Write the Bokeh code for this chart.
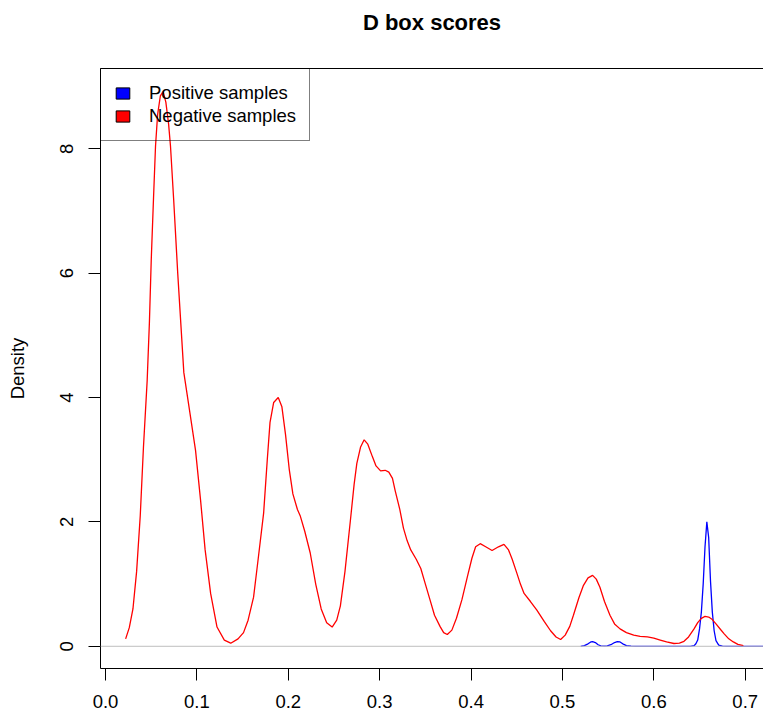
from bokeh.plotting import figure
from bokeh.models import (Range1d, FixedTicker, LinearAxis, Legend, LegendItem, Span)
from bokeh.embed import file_html
from bokeh.resources import INLINE

# ---- data ----
neg_x = [0.022, 0.026, 0.030, 0.034, 0.038, 0.0415, 0.0456, 0.048, 0.050, 0.0525,
         0.0547, 0.057, 0.060, 0.063, 0.066, 0.069, 0.0711, 0.0745, 0.079, 0.0857,
         0.093, 0.0985, 0.104, 0.109, 0.115, 0.122, 0.130, 0.137, 0.145, 0.151,
         0.156, 0.162, 0.167, 0.173, 0.177,
         0.180, 0.184, 0.189, 0.193, 0.197, 0.201, 0.205, 0.210, 0.213, 0.218,
         0.224, 0.230, 0.236, 0.242, 0.248, 0.253, 0.257, 0.262, 0.268, 0.272,
         0.275, 0.279, 0.283, 0.287, 0.292, 0.296, 0.301, 0.306, 0.310, 0.314,
         0.317, 0.322, 0.326, 0.330, 0.334, 0.340, 0.345, 0.350, 0.355, 0.360,
         0.366, 0.370, 0.374, 0.379, 0.384, 0.390, 0.396, 0.401, 0.405, 0.410,
         0.416, 0.423, 0.430, 0.436, 0.441, 0.445, 0.450, 0.454, 0.458, 0.465,
         0.472, 0.480, 0.487, 0.493, 0.498, 0.503, 0.508, 0.512, 0.518, 0.523,
         0.528, 0.533, 0.537, 0.541, 0.546, 0.552, 0.557, 0.563, 0.570, 0.578,
         0.585, 0.593, 0.600, 0.607, 0.614, 0.622, 0.628, 0.633, 0.638, 0.644,
         0.648, 0.652, 0.656, 0.660, 0.664, 0.668, 0.673, 0.677, 0.682, 0.687,
         0.692, 0.698]
neg_y = [0.12, 0.30, 0.60, 1.20, 2.10, 3.20, 4.28, 5.20, 6.20, 7.20,
         8.04, 8.55, 8.85, 8.92, 8.75, 8.40, 8.04, 7.20, 6.00, 4.40,
         3.69, 3.15, 2.35, 1.55, 0.85, 0.31, 0.10, 0.05, 0.12, 0.22,
         0.42, 0.79, 1.40, 2.14, 3.00,
         3.60, 3.92, 4.00, 3.85, 3.40, 2.85, 2.45, 2.20, 2.10, 1.85,
         1.50, 1.00, 0.60, 0.38, 0.31, 0.42, 0.65, 1.20, 2.03, 2.60,
         2.94, 3.20, 3.32, 3.25, 3.05, 2.90, 2.82, 2.83, 2.80, 2.70,
         2.50, 2.20, 1.90, 1.70, 1.55, 1.40, 1.25, 1.00, 0.75, 0.50,
         0.32, 0.22, 0.19, 0.26, 0.45, 0.75, 1.12, 1.42, 1.60, 1.65,
         1.60, 1.54, 1.60, 1.64, 1.55, 1.40, 1.18, 1.00, 0.85, 0.72,
         0.58, 0.40, 0.25, 0.15, 0.11, 0.18, 0.32, 0.50, 0.78, 0.98,
         1.10, 1.14, 1.08, 0.95, 0.72, 0.50, 0.36, 0.28, 0.22, 0.18,
         0.16, 0.15, 0.13, 0.10, 0.07, 0.045, 0.05, 0.08, 0.15, 0.28,
         0.38, 0.45, 0.48, 0.47, 0.43, 0.36, 0.27, 0.20, 0.12, 0.07,
         0.03, 0.01]

pos_x = [0.520, 0.524, 0.528, 0.531, 0.533, 0.536, 0.539, 0.542, 0.546, 0.549,
         0.553, 0.557, 0.560, 0.563, 0.566, 0.570, 0.575, 0.580, 0.600, 0.620,
         0.640, 0.644, 0.646, 0.648, 0.650, 0.652, 0.654, 0.656, 0.658, 0.660,
         0.662, 0.664, 0.666, 0.668, 0.671, 0.675, 0.680, 0.700, 0.730]
pos_y = [0.0, 0.01, 0.04, 0.07, 0.075, 0.06, 0.025, 0.008, 0.003, 0.008,
         0.025, 0.06, 0.075, 0.07, 0.04, 0.012, 0.002, 0.0, 0.0, 0.0,
         0.0, 0.01, 0.04, 0.10, 0.28, 0.55, 1.00, 1.60, 2.00, 1.75,
         1.05, 0.55, 0.25, 0.09, 0.02, 0.004, 0.0, 0.0, 0.0]

x_ticks = [0.0, 0.1, 0.2, 0.3, 0.4, 0.5, 0.6, 0.7]
x_tick_labels = ["0.0", "0.1", "0.2", "0.3", "0.4", "0.5", "0.6", "0.7"]
y_ticks = [0, 2, 4, 6, 8]
series_names = ["Positive samples", "Negative samples"]
series_colors = ["#0000FF", "#FF0000"]

FONT = "Liberation Sans"
FS = "18.5px"

p = figure(width=763, height=713, output_backend="svg", toolbar_location=None,
           x_range=Range1d(-0.0055, 0.72), y_range=Range1d(-0.357, 9.29),
           min_border_left=100, min_border_right=0, min_border_top=68,
           min_border_bottom=45, x_axis_type=None, y_axis_type=None)
p.outline_line_color = None
p.background_fill_color = "white"
p.border_fill_color = "white"

p.title.text = "D box scores"
p.title.text_font = FONT
p.title.text_font_size = "22px"
p.title.text_font_style = "bold"
p.title.align = "center"
p.title.text_color = "black"
p.title.vertical_align = "bottom"
p.title.standoff = 12

# axes (bottom, left with ticks; top as box line)
xaxis = LinearAxis(ticker=FixedTicker(ticks=x_ticks))
xaxis.major_label_overrides = dict(zip(x_ticks, x_tick_labels))
yaxis = LinearAxis(ticker=FixedTicker(ticks=y_ticks), axis_label="Density")
for ax in (xaxis, yaxis):
    ax.major_tick_out = 12
    ax.major_tick_in = 0
    ax.minor_tick_out = 0
    ax.minor_tick_in = 0
    ax.axis_line_color = "black"
    ax.major_tick_line_color = "black"
    ax.major_label_text_font = FONT
    ax.major_label_text_font_size = FS
    ax.major_label_text_color = "black"
    ax.axis_label_text_font = FONT
    ax.axis_label_text_font_size = FS
    ax.axis_label_text_font_style = "normal"
    ax.axis_label_text_color = "black"
xaxis.major_label_standoff = 14
yaxis.major_label_standoff = 15
yaxis.major_label_orientation = "vertical"
yaxis.axis_label_standoff = 30
# top box line as an axis without ticks; its (empty) label gives the title room
topaxis = LinearAxis(ticker=FixedTicker(ticks=[]), axis_label=" ",
                     axis_label_standoff=8, axis_label_text_font_size="16px")
topaxis.axis_line_color = "black"
topaxis.major_tick_out = 0
topaxis.major_tick_in = 0
p.add_layout(xaxis, "below")
p.add_layout(yaxis, "left")
p.add_layout(topaxis, "above")

p.add_layout(Span(location=0, dimension="width", line_color="#BEBEBE", line_width=1))

p.line(pos_x, pos_y, line_color=series_colors[0], line_width=1.3)
p.line(neg_x, neg_y, line_color=series_colors[1], line_width=1.3)

# legend swatches (no visible data, only used for the legend)
nan = float("nan")
sw = [p.quad(left=[nan], right=[nan], top=[nan], bottom=[nan], fill_color=c,
             line_color="black", line_width=1)
      for c in series_colors]
legend = Legend(items=[LegendItem(label=n, renderers=[r]) for n, r in zip(series_names, sw)],
                location="top_left", margin=0, padding=13, spacing=1,
                glyph_width=17, glyph_height=14, label_standoff=18, label_height=20,
                label_text_font=FONT, label_text_font_size=FS, label_text_color="black",
                border_line_color="black", border_line_width=1,
                background_fill_alpha=0)
p.add_layout(legend, "center")

open("out.html", "w").write(file_html(p, INLINE))
